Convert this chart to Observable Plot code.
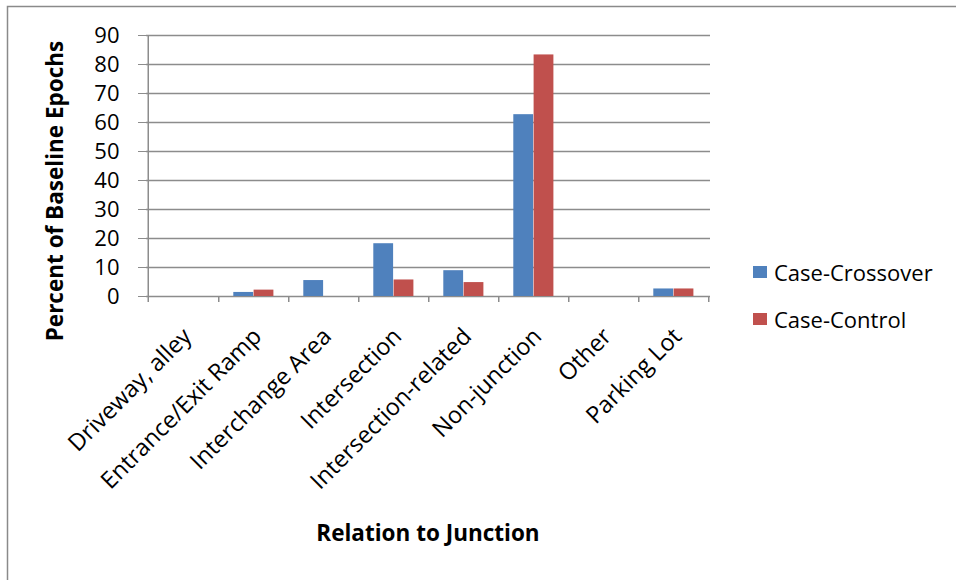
<!DOCTYPE html>
<html>
<head>
<meta charset="utf-8">
<script src="https://cdn.jsdelivr.net/npm/d3@7"></script>
<script src="https://cdn.jsdelivr.net/npm/@observablehq/plot@0.6"></script>
<style>
  html, body { margin: 0; padding: 0; background: #fff; overflow: hidden; }
  #wrap { position: relative; width: 956px; height: 580px; font-family: "Open Sans", sans-serif; }
  #wrap svg text { font-size: 22px; fill: #000; }
  #wrap svg g[aria-label="x-axis tick label"] text { font-size: 23.5px; }
  .legend { position: absolute; left: 753px; font-size: 22px; color: #000; display: flex; align-items: center; line-height: 1; }
  .legend span.key { display: inline-block; width: 14px; height: 12px; margin-right: 7px; }
</style>
</head>
<body>
<div id="wrap"></div>
<script>
const categories = ["Driveway, alley", "Entrance/Exit Ramp", "Interchange Area", "Intersection",
  "Intersection-related", "Non-junction", "Other", "Parking Lot"];
const crossover = [0, 1.4, 5.5, 18.2, 8.9, 62.7, 0, 2.6];
const control   = [0, 2.2, 0,   5.7,  4.8, 83.3, 0, 2.6];
const series = ["Case-Crossover", "Case-Control"];
const colors = ["#4F81BD", "#C0504D"];
const yTicks = [0, 10, 20, 30, 40, 50, 60, 70, 80, 90];

const rows = [];
categories.forEach((c, i) => {
  rows.push({category: c, series: series[0], value: crossover[i]});
  rows.push({category: c, series: series[1], value: control[i]});
});

const W = 956, H = 580;
const mL = 146, mR = 246, mT = 35, mB = 284;
const step = (W - mL - mR) / categories.length;
const half = step / 2;
const grid = "#8c8c8c";
const tickUnits = 6 / ((H - mT - mB) / 90);

const plot = Plot.plot({
  width: W, height: H,
  marginLeft: mL, marginRight: mR, marginTop: mT, marginBottom: mB,
  style: {fontFamily: "Open Sans, sans-serif", fontSize: "22px", color: "#000", background: "#fff"},
  x: {domain: categories, padding: 0, label: null},
  y: {domain: [0, 90], label: null},
  color: {domain: series, range: colors},
  marks: [
    Plot.ruleY(yTicks, {y: d => d, stroke: grid, strokeWidth: 1.5}),
    Plot.ruleX([categories[0]], {x: d => d, dx: -half, y1: -tickUnits, y2: 90, stroke: grid, strokeWidth: 1.5}),
    Plot.ruleX(categories, {x: d => d, dx: half, y1: -tickUnits, y2: 0, stroke: grid, strokeWidth: 1.5}),
    Plot.barY(rows.filter(d => d.series === series[0]), {
      x: "category", y: "value", fill: colors[0], insetLeft: 15.3, insetRight: step - 35.6
    }),
    Plot.barY(rows.filter(d => d.series === series[1]), {
      x: "category", y: "value", fill: colors[1], insetLeft: 35.6, insetRight: step - 55.9
    }),
    Plot.axisY({ticks: yTicks, tickSize: 8, tickPadding: 19, stroke: grid, tickFormat: d => d}),
    Plot.axisX({tickSize: 0, tickPadding: 36, dx: 4, tickRotate: -45})
  ]
});

const wrap = document.getElementById("wrap");
wrap.appendChild(plot);

const svg = d3.select(plot);
svg.style("position", "absolute").style("left", "0px").style("top", "0px");
svg.append("rect").attr("x", 7.5).attr("y", 6.5).attr("width", 1000).attr("height", 1000)
  .attr("fill", "none").attr("stroke", "#8a8a8a").attr("stroke-width", 1.5);
svg.append("text").attr("transform", "translate(63,191) rotate(-90)")
  .attr("text-anchor", "middle").attr("font-weight", "bold").style("font-size", "22.5px")
  .text("Percent of Baseline Epochs");
svg.append("text").attr("x", 428).attr("y", 541)
  .attr("text-anchor", "middle").attr("font-weight", "bold").style("font-size", "22.5px")
  .text("Relation to Junction");

const legendTops = [261, 308];
series.forEach((s, i) => {
  const div = document.createElement("div");
  div.className = "legend";
  div.style.top = legendTops[i] + "px";
  div.innerHTML = `<span class="key" style="background:${colors[i]}"></span><span>${s}</span>`;
  wrap.appendChild(div);
});
</script>
</body>
</html>
